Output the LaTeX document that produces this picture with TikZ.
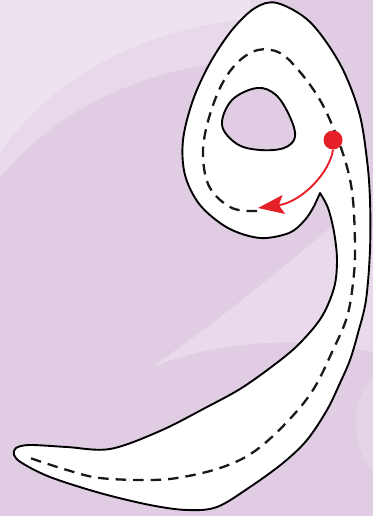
\documentclass[tikz,border=0pt]{standalone}
\usetikzlibrary{arrows.meta}
\definecolor{bgmain}{RGB}{224,205,228}
\definecolor{bglight}{RGB}{238,226,240}
\definecolor{bgmid}{RGB}{231,216,234}
\definecolor{redc}{RGB}{230,32,40}
\tikzset{
  outline/.style={fill=white, draw=black, line width=1.9pt, even odd rule, line join=round},
  guide/.style={draw=black!90, line width=2.3pt, dash pattern=on 10.5pt off 7pt},
  redarrow/.style={draw=redc, line width=1.9pt, -{Stealth[length=26pt,width=19pt,inset=5pt]}},
}
\begin{document}
\begin{tikzpicture}[x=1pt,y=-1pt]
\useasboundingbox (0,0) rectangle (373,516);
\fill[bgmain] (0,0) rectangle (373,516);
% background swirls
\fill[bgmid] (0,0) -- (0,178) .. controls (60,105) and (150,64) .. (270,58) -- (270,0) -- cycle;
\fill[bglight] (0,0) -- (0,152) .. controls (50,82) and (130,32) .. (250,18) -- (250,0) -- cycle;
\fill[bglight!60!bgmain] (152,367) .. controls (220,320) and (280,270) .. (330,228) -- (373,228) -- (373,352) .. controls (300,336) and (220,340) .. (152,367) -- cycle;
\fill[bglight!35!bgmain] (373,378) .. controls (352,400) and (348,440) .. (373,472) -- cycle;
% letter body
\path[outline]
  plot[smooth, tension=0.55] coordinates {
    (320,193) (328,208) (334,232) (337,260) (334,288) (321,318) (297,346)
    (270,368) (240,389) (207,407) (160,431) (110,449) (67,447) (30,445) (16,448)
    (14,455) (22,463) (50,477) (100,493) (150,505) (187,510) (217,507)
    (250,487) (283,463) (307,440) (327,410) (340,383) (350,360) (358,333)
    (366,300) (370,250)
    (370,200) (367,160) (359,112) (340,64) (310,22) (277,3) (255,8)
    (232,30) (210,63) (193,100) (183,140) (185,175) (200,205) (228,228)
    (260,238) (289,233) (304,221) (313,208) (320,193)}
  -- cycle
  plot[smooth cycle, tension=0.6] coordinates {
    (222,125) (232,100) (257,88) (276,95) (290,117) (295,137) (284,148)
    (260,150) (237,144)};
% guide line
\draw[guide] plot[smooth, tension=0.6] coordinates {
    (257,211) (232,208) (210,188) (203,157) (207,125) (220,88) (237,63)
    (258,50) (280,53) (300,72) (320,100) (335,132) (347,167) (353,200)
    (355,250) (353,283) (347,317) (333,350) (313,390) (287,422) (255,451)
    (223,467) (183,477) (150,480) (100,478) (67,470) (30,458)};
% start dot and arrow
\node[circle, fill=redc, minimum size=19pt, inner sep=0pt] (dot) at (333,140) {};
\coordinate (tip) at (258,208);
\draw[redarrow] (dot.south) .. controls (330,172) and (302,202) .. (tip);
\end{tikzpicture}
\end{document}
